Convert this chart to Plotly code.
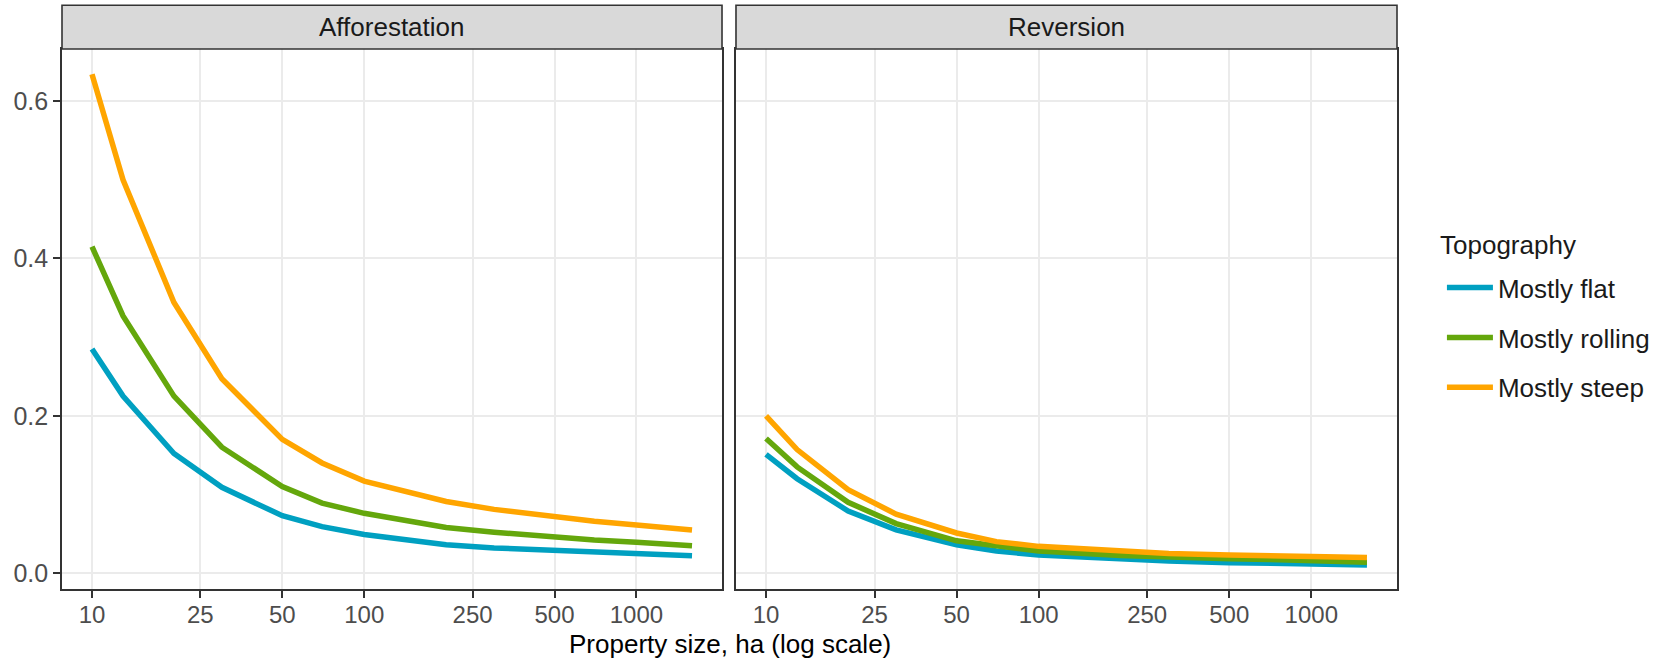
import plotly.graph_objects as go

# ---- data ----
property_size = [10, 13, 20, 30, 50, 70, 100, 200, 300, 500, 700, 1000, 1600]
topographies = ["Mostly flat", "Mostly rolling", "Mostly steep"]
panels = ["Afforestation", "Reversion"]

aff_flat    = [0.285, 0.225, 0.152, 0.109, 0.073, 0.059, 0.049, 0.036, 0.032, 0.0286, 0.0266, 0.0248, 0.0222]
aff_rolling = [0.415, 0.327, 0.225, 0.160, 0.110, 0.089, 0.076, 0.058, 0.052, 0.0456, 0.042, 0.0392, 0.0349]
aff_steep   = [0.634, 0.500, 0.344, 0.247, 0.170, 0.140, 0.117, 0.091, 0.081, 0.071, 0.066, 0.0612, 0.0549]

rev_flat    = [0.151, 0.120, 0.079, 0.055, 0.036, 0.028, 0.023, 0.0175, 0.0155, 0.0133, 0.0125, 0.0117, 0.0104]
rev_rolling = [0.171, 0.135, 0.090, 0.063, 0.041, 0.034, 0.028, 0.0225, 0.020, 0.0184, 0.0173, 0.0164, 0.0138]
rev_steep   = [0.200, 0.157, 0.106, 0.075, 0.051, 0.040, 0.034, 0.028, 0.025, 0.0231, 0.022, 0.0214, 0.0197]

x_tickvals = [10, 25, 50, 100, 250, 500, 1000]
x_ticktext = ["10", "25", "50", "100", "250", "500", "1000"]
y_tickvals = [0.0, 0.2, 0.4, 0.6]
y_ticktext = ["0.0", "0.2", "0.4", "0.6"]

colors = ["#00A0C1", "#64A70C", "#FFA500"]

series = {
    "Afforestation": [aff_flat, aff_rolling, aff_steep],
    "Reversion": [rev_flat, rev_rolling, rev_steep],
}

FONT = "Liberation Sans, Arial, Helvetica, sans-serif"
TICK = 24
TXT = 26

fig = go.Figure()
for pi, panel in enumerate(panels):
    xa = "x" if pi == 0 else "x2"
    ya = "y" if pi == 0 else "y2"
    for ti, topo in enumerate(topographies):
        fig.add_trace(go.Scatter(
            x=property_size, y=series[panel][ti], mode="lines",
            line=dict(color=colors[ti], width=5.5),
            name=topo, legendgroup=topo, showlegend=(pi == 0),
            xaxis=xa, yaxis=ya,
        ))

axis_common = dict(
    showline=True, linecolor="#333333", linewidth=1.6, mirror=True,
    showgrid=True, gridcolor="#EBEBEB", gridwidth=2.2, zeroline=False,
)
xr = [0.8898, 3.3143]
yr = [-0.0202, 0.6662]
ML, MR = 62, 268
PLOT_W = 1667 - ML - MR
PLOT_H = 540.8
dom_left = [0, (723 - ML) / PLOT_W]
dom_right = [(737 - ML) / PLOT_W, 1]

tickfont = dict(size=TICK, color="#4D4D4D", family=FONT)
xtick_common = dict(ticks="outside", ticklen=7, tickwidth=1.6, tickcolor="#333333",
                    tickfont=tickfont, ticklabelstandoff=-4)

fig.update_layout(
    width=1667, height=658,
    margin=dict(l=ML, r=MR, t=48.5, b=68.7),
    paper_bgcolor="white", plot_bgcolor="white",
    font=dict(family=FONT, size=TXT, color="#1A1A1A"),
    xaxis=dict(type="log", range=xr, domain=dom_left, anchor="y",
               tickvals=x_tickvals, ticktext=x_ticktext, **xtick_common, **axis_common),
    xaxis2=dict(type="log", range=xr, domain=dom_right, anchor="y2",
                tickvals=x_tickvals, ticktext=x_ticktext, **xtick_common, **axis_common),
    yaxis=dict(range=yr, domain=[0, 1], anchor="x",
               tickvals=y_tickvals, ticktext=y_ticktext,
               ticks="outside", ticklen=7, tickwidth=1.6, tickcolor="#333333",
               tickfont=dict(size=TICK + 1, color="#4D4D4D", family=FONT), **axis_common),
    yaxis2=dict(range=yr, domain=[0, 1], anchor="x2",
                tickvals=y_tickvals, showticklabels=False, ticks="",
                **axis_common),
    legend=dict(
        font=dict(size=TXT, color="#1A1A1A", family=FONT),
        x=(1444 - ML) / PLOT_W, xanchor="left",
        y=(589.3 - 264) / PLOT_H, yanchor="top",
        tracegroupgap=13, bgcolor="rgba(0,0,0,0)",
        itemwidth=46,
    ),
    showlegend=True,
)

# legend title
fig.add_annotation(text="Topography", xref="paper", yref="paper",
                   x=(1440 - ML) / PLOT_W, y=(589.3 - 245) / PLOT_H,
                   showarrow=False, xanchor="left", yanchor="middle",
                   font=dict(size=TXT, color="#1A1A1A", family=FONT))

# facet strips
strip_top = 1 + (48.5 - 4.7) / PLOT_H
for pi, panel in enumerate(panels):
    dom = dom_left if pi == 0 else dom_right
    fig.add_shape(type="rect", xref="paper", yref="paper",
                  x0=dom[0], x1=dom[1], y0=1, y1=strip_top,
                  fillcolor="#D9D9D9", line=dict(color="#333333", width=1.6), layer="above")
    fig.add_annotation(text=panel, xref="paper", yref="paper",
                       x=(dom[0] + dom[1]) / 2, y=(1 + strip_top) / 2,
                       showarrow=False, xanchor="center", yanchor="middle",
                       font=dict(size=TXT, color="#1A1A1A", family=FONT))

# x-axis title
fig.add_annotation(text="Property size, ha (log scale)", xref="paper", yref="paper",
                   x=0.5, y=-(644 - 589.3) / PLOT_H, showarrow=False,
                   xanchor="center", yanchor="middle",
                   font=dict(size=TXT, color="#000000", family=FONT))

fig.write_html("out.html")
